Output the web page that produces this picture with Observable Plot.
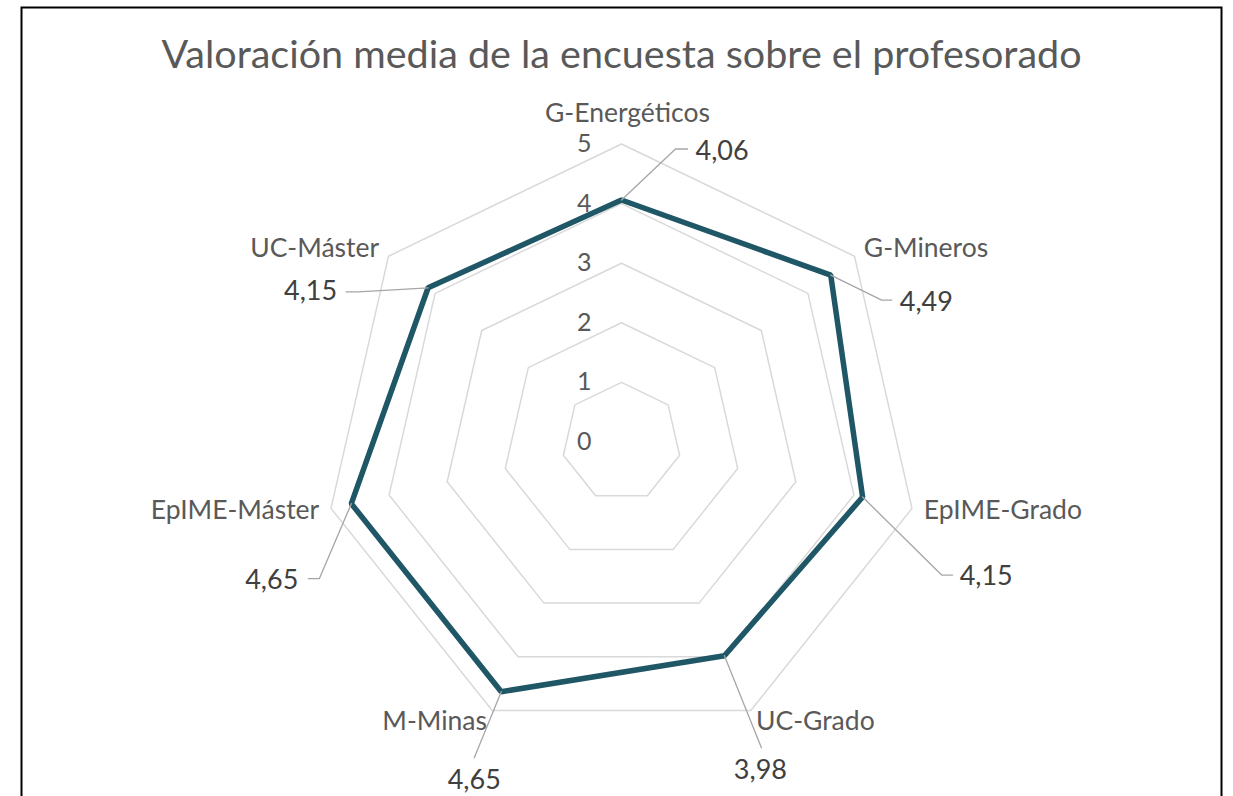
<!DOCTYPE html>
<html><head><meta charset="utf-8">
<script src="https://cdn.jsdelivr.net/npm/d3@7"></script>
<script src="https://cdn.jsdelivr.net/npm/@observablehq/plot@0.6"></script>
<style>body{margin:0;background:#fff;overflow:hidden} svg{display:block}</style>
</head><body><div id="chart"></div>
<script>
// ---- data ----
const categories = ["G-Energéticos","G-Mineros","EpIME-Grado","UC-Grado","M-Minas","EpIME-Máster","UC-Máster"];
const values = [4.06, 4.49, 4.15, 3.98, 4.65, 4.65, 4.15];
const valueLabels = ["4,06","4,49","4,15","3,98","4,65","4,65","4,15"];
const ticks = [0, 1, 2, 3, 4, 5];
const tickLabels = ["0","1","2","3","4","5"];
const title = "Valoración media de la encuesta sobre el profesorado";

// ---- layout ----
const W = 1233, H = 830, cx = 621, cy = 441.5, k = 59.6;
const mL = 21, mR = 12, mT = 7, mB = 0;
// data-label leader layout, pixel offsets from each point: elbow, horizontal tail, text offset
const leader = [
  {ex: 54, ey: -51, tail: 12, tx: 8, ty: 2, anchor: "start"},
  {ex: 51, ey: 25, tail: 10, tx: 8, ty: 2, anchor: "start"},
  {ex: 79, ey: 78, tail: 11, tx: 7, ty: 1, anchor: "start"},
  {ex: 37, ey: 92, tail: 0, tx: -1, ty: 23, anchor: "middle"},
  {ex: -27, ey: 66, tail: 0, tx: 0, ty: 23, anchor: "middle"},
  {ex: -32, ey: 75, tail: -11, tx: -10, ty: 2, anchor: "end"},
  {ex: -70, ey: 4, tail: -12, tx: -9, ty: 0, anchor: "end"}
];

const n = categories.length;
const ang = i => 2 * Math.PI * i / n;
const sx = i => Math.sin(ang(i)), cyv = i => Math.cos(ang(i));
const PX = d => d / k;          // pixel offset -> data units (x)
const PY = d => -d / k;         // pixel offset -> data units (y, downward px)

const maxT = d3.max(ticks);
const rings = ticks.filter(t => t > 0).flatMap(t =>
  d3.range(n).map(i => ({ring: t, x: t * sx(i), y: t * cyv(i)})));
const series = values.map((v, i) => ({x: v * sx(i), y: v * cyv(i)}));

const leaders = values.flatMap((v, i) => {
  const L = leader[i], p = series[i];
  const e = {x: p.x + PX(L.ex), y: p.y + PY(L.ey)};
  const pts = [{c: i, ...p}, {c: i, ...e}];
  if (L.tail) pts.push({c: i, x: e.x + PX(L.tail), y: e.y});
  return pts;
});
const dataLabels = values.map((v, i) => {
  const L = leader[i], p = series[i];
  return {label: valueLabels[i], anchor: L.anchor,
    x: p.x + PX(L.ex + L.tail + L.tx), y: p.y + PY(L.ey + L.ty)};
});
const catLabels = categories.map((c, i) => {
  const s = sx(i), co = cyv(i);
  const top = Math.abs(s) < 0.01;
  const pad = 12;
  return {label: c, anchor: top ? "middle" : (s > 0 ? "start" : "end"),
    x: maxT * s + PX(pad * s + (top ? 6 : 0)),
    y: maxT * co + PY(-pad * co - (top ? 18 : 0))};
});
const tickData = ticks.map((t, i) => ({label: tickLabels[i], x: PX(-30), y: t}));

const xDomain = [(mL - cx) / k, (W - mR - cx) / k];
const yDomain = [(cy - (H - mB)) / k, (cy - mT) / k];

const plot = Plot.plot({
  width: W, height: H,
  marginLeft: mL, marginRight: mR, marginTop: mT, marginBottom: mB,
  x: {domain: xDomain, axis: null},
  y: {domain: yDomain, axis: null},
  style: {fontFamily: "Lato", background: "#fff"},
  marks: [
    Plot.frame({stroke: "#000", strokeWidth: 2}),
    Plot.line(rings, {x: "x", y: "y", z: "ring", curve: "linear-closed", stroke: "#d9d9d9", strokeWidth: 1.5}),
    Plot.line(series, {x: "x", y: "y", curve: "linear-closed", stroke: "#1f5766", strokeWidth: 5.5, strokeLinejoin: "miter"}),
    Plot.line(leaders, {x: "x", y: "y", z: "c", stroke: "#a6a6a6", strokeWidth: 1.3}),
    Plot.text(tickData, {x: "x", y: "y", text: "label", textAnchor: "end", fontSize: 25, fill: "#595959"}),
    ...["start", "middle", "end"].map(a =>
      Plot.text(catLabels.filter(d => d.anchor === a), {x: "x", y: "y", text: "label", textAnchor: a, fontSize: 26.5, fill: "#595959"})),
    ...["start", "middle", "end"].map(a =>
      Plot.text(dataLabels.filter(d => d.anchor === a), {x: "x", y: "y", text: "label", textAnchor: a, fontSize: 27, fill: "#404040"})),
    Plot.text([title], {x: 0, y: (cy - 55) / k, text: d => d, fontSize: 39.5, fill: "#595959"})
  ]
});
document.getElementById("chart").appendChild(plot);
</script>
</body></html>
